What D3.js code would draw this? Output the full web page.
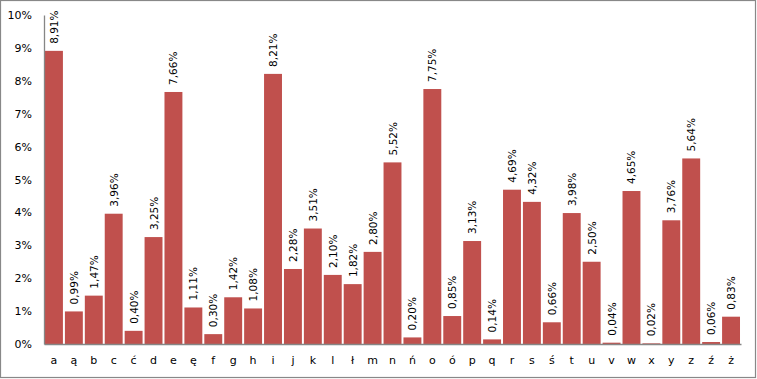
<html>
<head>
<script src="https://d3js.org/d3.v7.min.js"></script>
<style>
body { margin:0; background:#fff; }
text { font-family: "DejaVu Sans", Verdana, sans-serif; }
</style>
</head>
<body>
<svg id="plot"></svg>
<script>
var letters = ["a","ą","b","c","ć","d","e","ę","f","g","h","i","j","k","l","ł","m","n","ń","o","ó","p","q","r","s","ś","t","u","v","w","x","y","z","ź","ż"];
var freq = [8.91,0.99,1.47,3.96,0.40,3.25,7.66,1.11,0.30,1.42,1.08,8.21,2.28,3.51,2.10,1.82,2.80,5.52,0.20,7.75,0.85,3.13,0.14,4.69,4.32,0.66,3.98,2.50,0.04,4.65,0.02,3.76,5.64,0.06,0.83];
var yTicks = [0,1,2,3,4,5,6,7,8,9,10];

var screen = {width:757, height:379};
var margins = {top:15, left:44, right:16, bottom:35};
var graph = {
    width: screen.width - margins.left - margins.right,
    height: screen.height - margins.top - margins.bottom
};

var svg = d3.select("#plot")
    .attr("width", screen.width)
    .attr("height", screen.height);

// outer frame
svg.append("rect")
    .attr("x", 0.5).attr("y", 0.5)
    .attr("width", screen.width - 2)
    .attr("height", screen.height - 2)
    .attr("fill", "white")
    .attr("stroke", "#888")
    .attr("stroke-width", 1.2);

var g = svg.append("g")
    .attr("transform", "translate(" + margins.left + "," + margins.top + ")");

var xScale = d3.scaleBand()
    .domain(letters)
    .range([0, graph.width])
    .paddingInner(0.1)
    .paddingOuter(0.05);

var yScale = d3.scaleLinear()
    .domain([0, 10])
    .range([graph.height, 0]);

// bars
g.selectAll("rect.bar")
    .data(letters)
    .enter()
    .append("rect")
    .classed("bar", true)
    .attr("x", function(d){ return xScale(d); })
    .attr("y", function(d, i){ return yScale(freq[i]); })
    .attr("width", xScale.bandwidth())
    .attr("height", function(d, i){ return graph.height - yScale(freq[i]); })
    .attr("fill", "#C0504D");

// value labels
g.selectAll("text.val")
    .data(letters)
    .enter()
    .append("text")
    .classed("val", true)
    .attr("transform", function(d, i){
        return "translate(" + (xScale(d) + xScale.bandwidth()/2 + 4) + "," + (yScale(freq[i]) - 7) + ") rotate(-90)";
    })
    .attr("font-size", 10.5)
    .attr("fill", "#000")
    .text(function(d, i){ return freq[i].toFixed(2).replace(".", ",") + "%"; });

// axes
var yAxis = d3.axisLeft(yScale)
    .tickValues(yTicks)
    .tickSize(0)
    .tickPadding(12)
    .tickFormat(function(d){ return d + "%"; });

var xAxis = d3.axisBottom(xScale)
    .tickSize(0)
    .tickPadding(12);

var ya = g.append("g").call(yAxis);
var xa = g.append("g")
    .attr("transform", "translate(0," + graph.height + ")")
    .call(xAxis);

[ya, xa].forEach(function(a){
    a.select(".domain").attr("stroke", "#868686").attr("stroke-width", 1.3);
    a.selectAll("text")
        .attr("font-size", 11)
        .attr("font-family", "\"DejaVu Sans\", Verdana, sans-serif")
        .attr("fill", "#000");
});
</script>
</body>
</html>
